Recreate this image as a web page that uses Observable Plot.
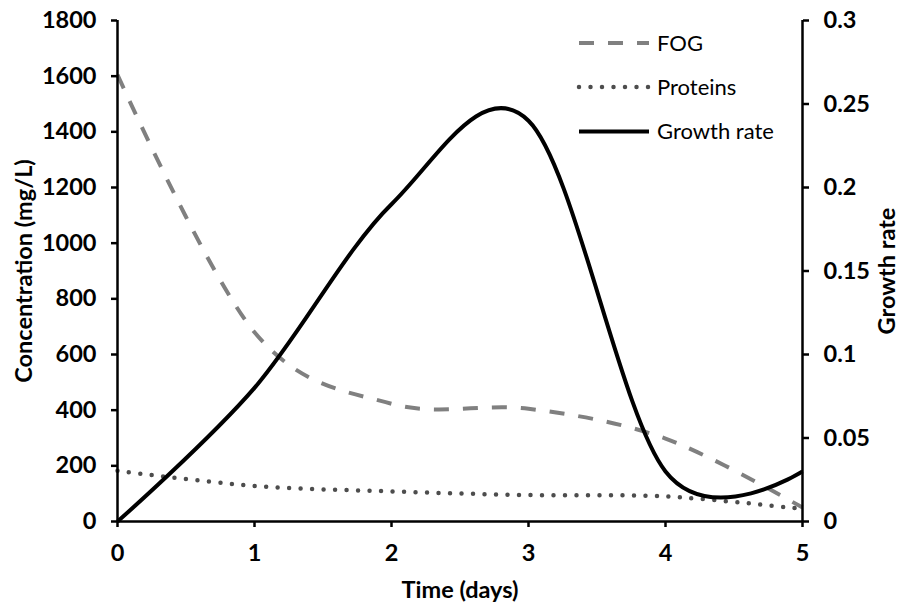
<!DOCTYPE html>
<html>
<head>
<meta charset="utf-8">
<script src="https://cdn.jsdelivr.net/npm/d3@7"></script>
<script src="https://cdn.jsdelivr.net/npm/@observablehq/plot@0.6"></script>
<style>
  html, body { margin: 0; padding: 0; background: #fff; }
  #chart { width: 902px; height: 604px; }
</style>
</head>
<body>
<div id="chart"></div>
<script>
// Daily measurements over the 5-day run
const days = [0, 1, 2, 3, 4, 5];
const fog = [1605, 680, 423, 405, 298, 50];          // mg/L
const proteins = [182, 128, 108, 95, 90, 45];        // mg/L
const growthRate = [0, 0.08, 0.19, 0.24, 0.03, 0.03];

// Axis ticks
const dayTicks = [0, 1, 2, 3, 4, 5];
const concTicks = [0, 200, 400, 600, 800, 1000, 1200, 1400, 1600, 1800];
const growthTicks = [0, 0.05, 0.1, 0.15, 0.2, 0.25, 0.3];

// Legend entries
const seriesNames = ["FOG", "Proteins", "Growth rate"];

// Growth rate shares the concentration scale via a fixed ratio (0.3 ↔ 1800)
const concMax = concTicks[concTicks.length - 1];
const growthMax = growthTicks[growthTicks.length - 1];
const ratio = concMax / growthMax;

const rows = days.map((t, i) => ({t, fog: fog[i], proteins: proteins[i], growth: growthRate[i]}));

const font = "Lato, 'Open Sans', sans-serif";
const fogStyle = {stroke: "#808080", strokeWidth: 4, strokeDasharray: "15 14", strokeLinecap: "butt"};
const protStyle = {stroke: "#4d4d4d", strokeWidth: 4.5, strokeDasharray: "0 11.5", strokeLinecap: "round"};
const growthStyle = {stroke: "#000", strokeWidth: 4, strokeLinecap: "butt"};

const smooth = {curve: "cardinal", tension: 0};
const titleStyle = {textAnchor: "middle", lineAnchor: "middle", rotate: -90};

const chart = Plot.plot({
  width: 902,
  height: 604,
  marginLeft: 117,
  marginRight: 100,
  marginTop: 20,
  marginBottom: 83,
  style: {fontFamily: font, fontSize: "23.5px", fontWeight: "bold", color: "#000", background: "#fff", overflow: "visible"},
  x: {domain: [dayTicks[0], dayTicks[dayTicks.length - 1]]},
  y: {domain: [0, concMax]},
  marks: [
    Plot.line(rows, {x: "t", y: "fog", ...smooth, ...fogStyle}),
    Plot.line(rows, {x: "t", y: "proteins", ...smooth, ...protStyle}),
    Plot.line(rows, {x: "t", y: d => d.growth * ratio, ...smooth, ...growthStyle}),
    Plot.ruleX([dayTicks[0], dayTicks[dayTicks.length - 1]], {stroke: "#000", strokeWidth: 2.5}),
    Plot.ruleY([0], {stroke: "#000", strokeWidth: 2.5}),
    Plot.axisX({ticks: dayTicks, tickSize: 6, tickPadding: 17, strokeWidth: 2.5, tickFormat: d => String(d), label: null}),
    Plot.axisY({ticks: concTicks, tickSize: 6, tickPadding: 15, strokeWidth: 2.5, tickFormat: d => String(d), label: null}),
    Plot.axisY({anchor: "right", ticks: growthTicks.map(g => g * ratio), tickSize: 6, tickPadding: 15, strokeWidth: 2.5,
                tickFormat: d => String(Math.round(d / ratio * 100) / 100), label: null}),
    Plot.text(["Concentration (mg/L)"], {frameAnchor: "left", dx: -93, ...titleStyle, text: d => d}),
    Plot.text(["Growth rate"], {frameAnchor: "right", dx: 85, ...titleStyle, text: d => d}),
    Plot.text(["Time (days)"], {frameAnchor: "bottom", dy: 69, textAnchor: "middle", lineAnchor: "middle", text: d => d})
  ]
});

// In-plot legend, top right
const svg = d3.select(chart);
const legend = svg.append("g")
  .attr("font-family", font).attr("font-size", 22).attr("font-weight", "normal")
  .attr("text-anchor", "start");
const styles = [fogStyle, protStyle, growthStyle];
const rowY = [43, 87, 131.5];
seriesNames.forEach((name, i) => {
  const s = styles[i];
  legend.append("line")
    .attr("x1", 579).attr("x2", 649).attr("y1", rowY[i]).attr("y2", rowY[i])
    .attr("stroke", s.stroke).attr("stroke-width", s.strokeWidth)
    .attr("stroke-dasharray", s.strokeDasharray || null)
    .attr("stroke-linecap", s.strokeLinecap);
  legend.append("text")
    .attr("x", 657).attr("y", rowY[i]).attr("dy", "0.36em")
    .attr("text-anchor", "start")
    .attr("fill", "#000").text(name);
});

document.getElementById("chart").appendChild(chart);
</script>
</body>
</html>
